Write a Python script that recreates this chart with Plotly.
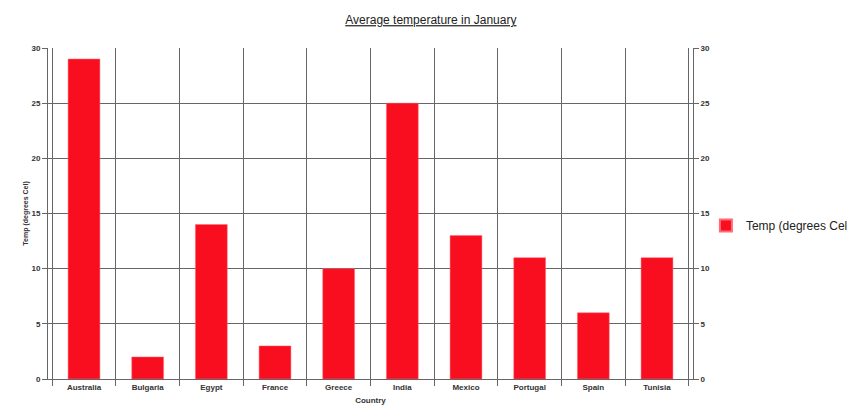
import plotly.graph_objects as go

countries = ["Australia", "Bulgaria", "Egypt", "France", "Greece",
             "India", "Mexico", "Portugal", "Spain", "Tunisia"]
temps = [29, 2, 14, 3, 10, 25, 13, 11, 6, 11]
y_ticks = [0, 5, 10, 15, 20, 25, 30]
series_name = "Temp (degrees Cel"

RED = "#f90e1f"
GRID = "#666666"
FONT = "Liberation Sans, Arial, sans-serif"
TICKFONT = dict(family=FONT, size=8, color="#333333")

fig = go.Figure()
fig.add_trace(go.Bar(
    x=countries, y=temps, name=series_name,
    marker=dict(color=RED, line=dict(color="#ff6b75", width=0.5)),
    width=0.5,
))
# invisible trace to carry the right-hand axis
fig.add_trace(go.Scatter(
    x=countries, y=temps, yaxis="y2", mode="markers",
    marker=dict(opacity=0), showlegend=False, hoverinfo="skip",
))

# the page body has an 8px margin, so the figure is sized to fit the window
fig.update_layout(
    width=856, height=412,
    margin=dict(l=40, r=171, t=40, b=41, autoexpand=False),
    paper_bgcolor="white", plot_bgcolor="white",
    title=dict(
        text="<u>Average temperature in January</u>",
        x=0.494, xref="container", xanchor="center",
        y=0.971, yref="container", yanchor="middle",
        font=dict(family=FONT, size=12, color="#222222"),
    ),
    showlegend=True,
    legend=dict(
        x=1.02, xanchor="left", y=0.464, yanchor="middle",
        bgcolor="rgba(0,0,0,0)",
        font=dict(family=FONT, size=12, color="#222222"),
        itemsizing="constant",
    ),
    bargap=0.5,
    xaxis=dict(
        type="category", categoryorder="array", categoryarray=countries,
        tickvals=countries, ticktext=[f"<b>{c}</b>" for c in countries],
        tickson="boundaries", ticks="outside", ticklen=6, tickcolor=GRID,
        showgrid=True, gridcolor=GRID, gridwidth=1,
        showline=True, linecolor=GRID, linewidth=1,
        tickfont=TICKFONT, automargin=False,
        title=dict(text="<b>Country</b>", standoff=6,
                   font=dict(family=FONT, size=8, color="#333333")),
        zeroline=False,
    ),
    yaxis=dict(
        range=[0, 30], tickvals=y_ticks, ticktext=[f"<b>{v}</b>" for v in y_ticks],
        ticks="outside", ticklen=5, tickcolor=GRID,
        showgrid=True, gridcolor=GRID, gridwidth=1,
        showline=True, linecolor=GRID, linewidth=1,
        tickfont=TICKFONT, zeroline=False, automargin=False,
        title=dict(text="<b>Temp (degrees Cel)</b>", standoff=2,
                   font=dict(family=FONT, size=7, color="#333333")),
    ),
    yaxis2=dict(
        overlaying="y", side="right", range=[0, 30],
        tickvals=y_ticks, ticktext=[f"<b>{v}</b>" for v in y_ticks],
        ticks="outside", ticklen=5, tickcolor=GRID,
        showgrid=False, showline=True, linecolor=GRID, linewidth=1,
        tickfont=TICKFONT, zeroline=False, automargin=False,
    ),
)

fig.write_html("out.html")
